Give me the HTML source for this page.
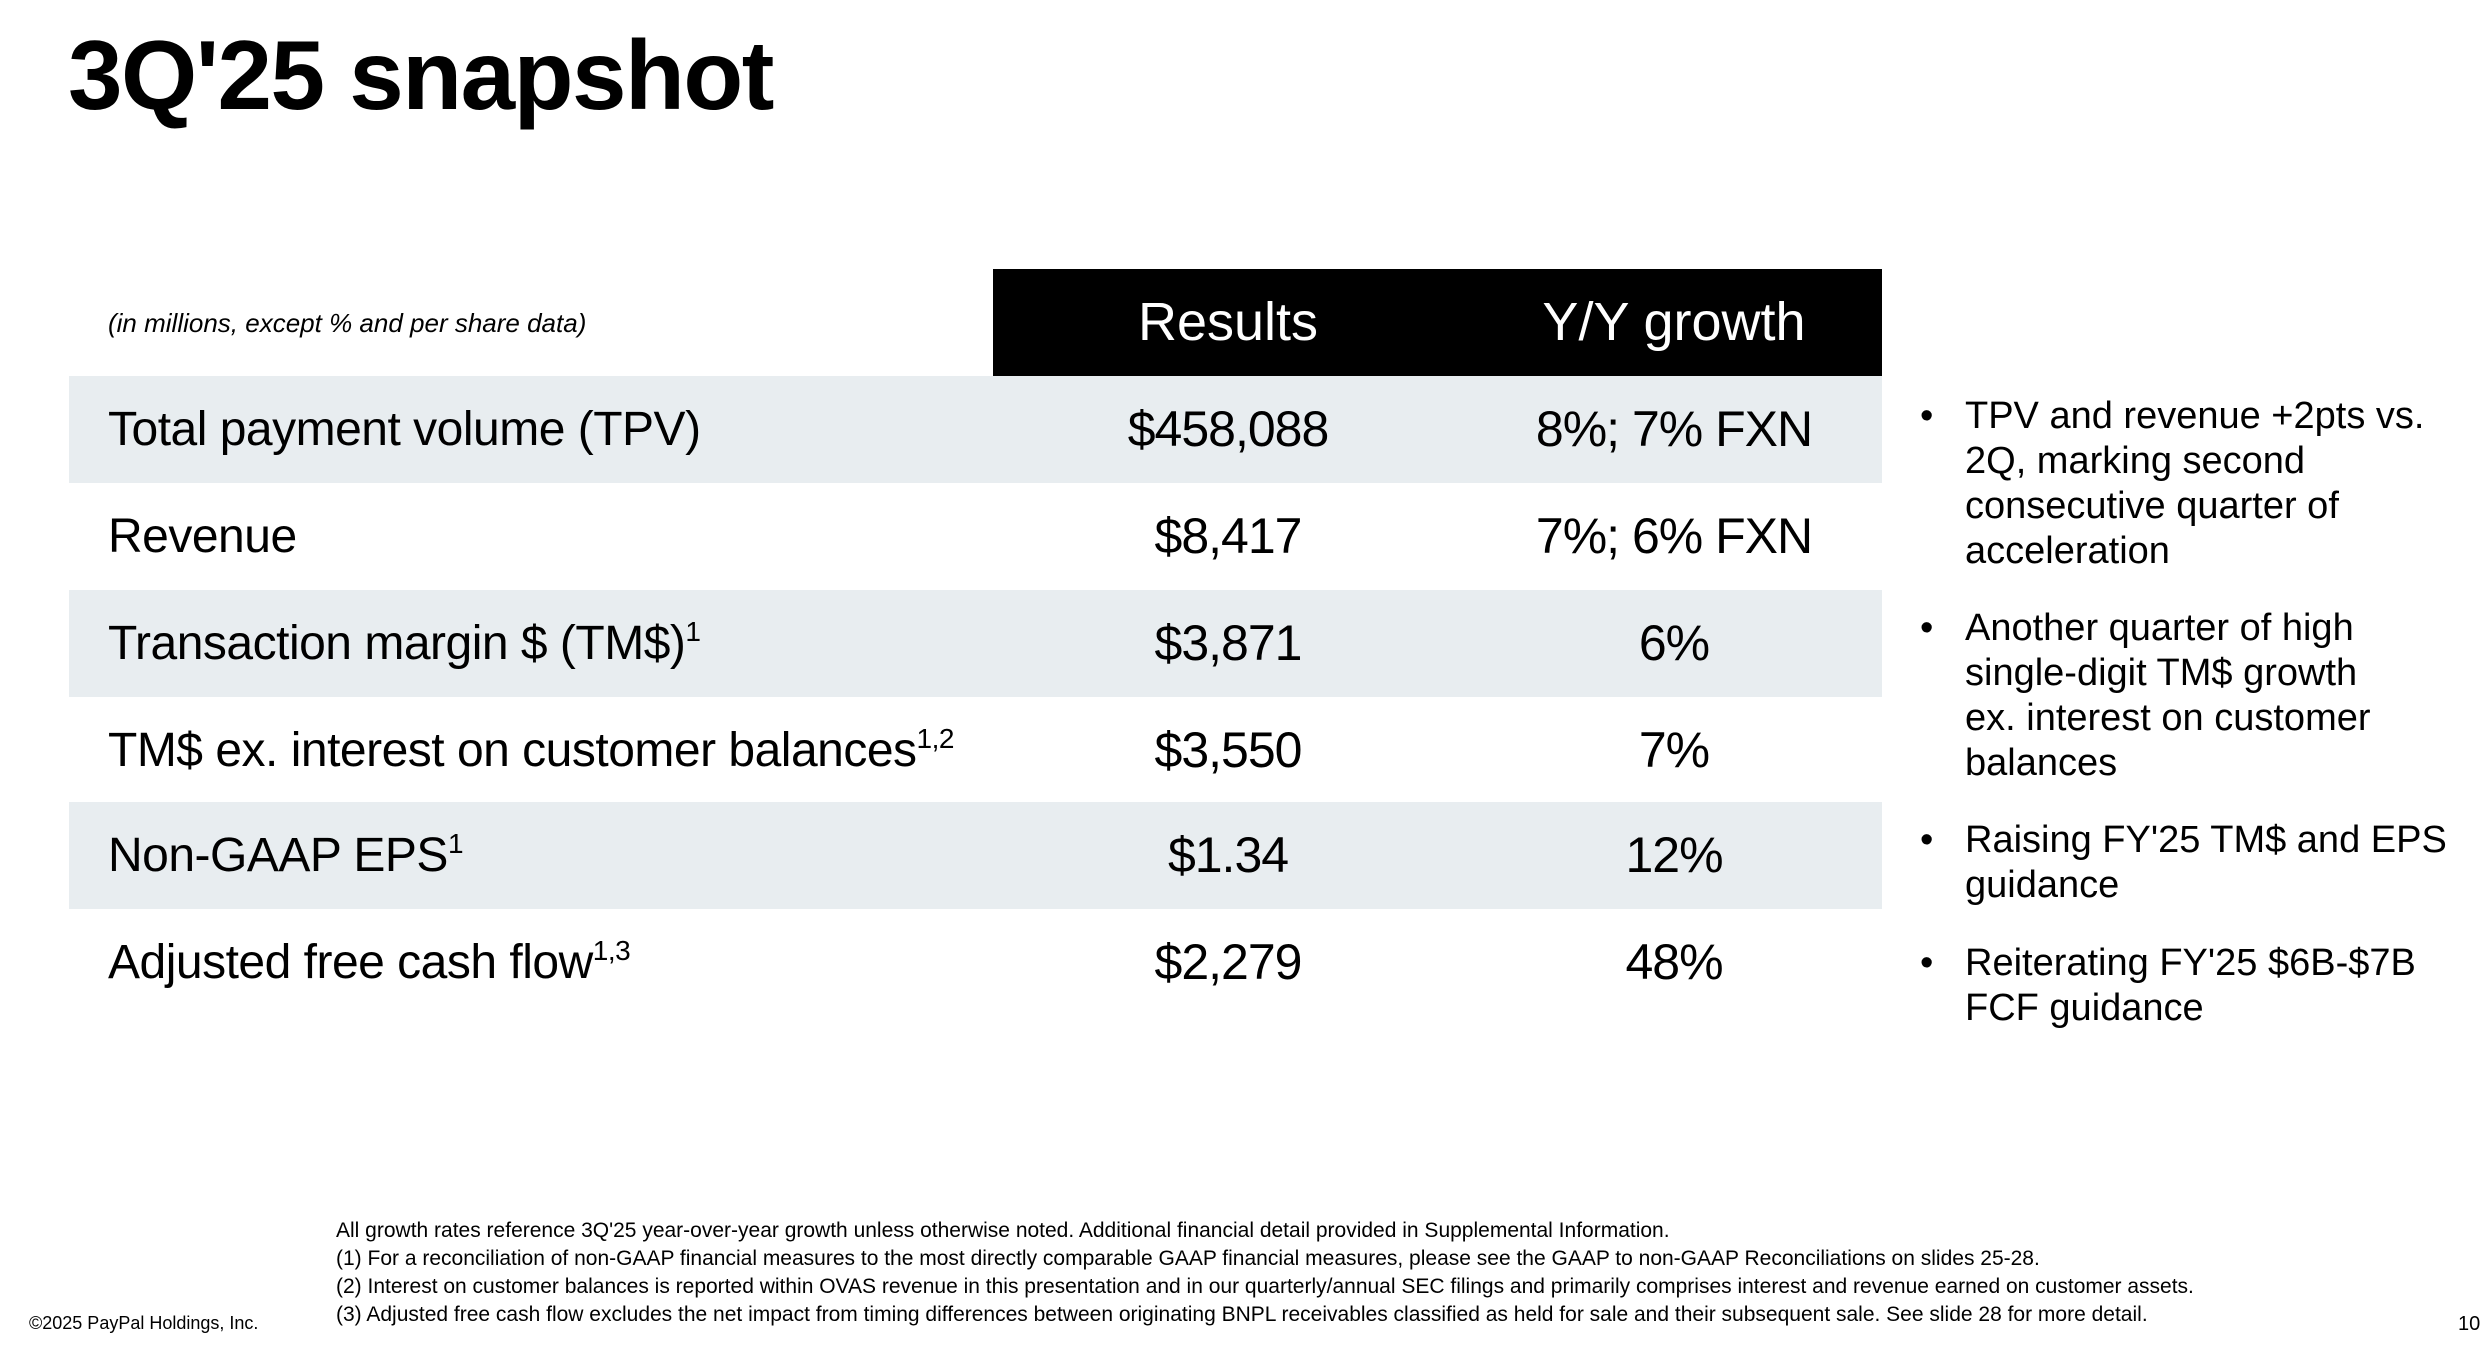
<!DOCTYPE html>
<html><head><meta charset="utf-8"><style>
*{margin:0;padding:0;box-sizing:border-box}
body{width:2486px;height:1352px;background:#fff;position:relative;overflow:hidden;font-family:"Liberation Sans",sans-serif;color:#000}
.a{position:absolute;white-space:nowrap}
.row{position:absolute;left:69px;width:1813px;height:107px}
.g{background:#e8edf0}
.lab{position:absolute;left:39px;top:0;line-height:107px;font-size:48px;letter-spacing:-0.5px}
.res{position:absolute;width:400px;text-align:center;line-height:107px;font-size:50px;letter-spacing:-1px;top:0}
.yy{position:absolute;width:400px;text-align:center;line-height:107px;font-size:50px;letter-spacing:-1px;top:0}
sup{font-size:28px;vertical-align:baseline;position:relative;top:-18px;line-height:0}
.bl{font-size:38px;line-height:45px}
.fn{font-size:21px;line-height:28px}
</style></head><body>
<div class="a" style="left:68px;top:20px;font-size:98px;font-weight:bold;letter-spacing:-1.5px;line-height:110px">3Q'25 snapshot</div>

<div class="a" style="left:108px;top:308px;font-size:26px;font-style:italic">(in millions, except % and per share data)</div>
<div class="a" style="left:993px;top:269px;width:889px;height:107px;background:#000"></div>
<div class="a" style="left:1028px;top:269px;width:400px;text-align:center;line-height:107px;color:#fff;font-size:54px">Results</div>
<div class="a" style="left:1474px;top:269px;width:400px;text-align:center;line-height:107px;color:#fff;font-size:54px">Y/Y growth</div>

<div class="row g" style="top:376px"><div class="lab">Total payment volume (TPV)</div><div class="res" style="left:959px">$458,088</div><div class="yy" style="left:1405px">8%; 7% FXN</div></div>
<div class="row" style="top:483px"><div class="lab">Revenue</div><div class="res" style="left:959px">$8,417</div><div class="yy" style="left:1405px">7%; 6% FXN</div></div>
<div class="row g" style="top:590px"><div class="lab">Transaction margin $ (TM$)<sup>1</sup></div><div class="res" style="left:959px">$3,871</div><div class="yy" style="left:1405px">6%</div></div>
<div class="row" style="top:697px"><div class="lab">TM$ ex. interest on customer balances<sup>1,2</sup></div><div class="res" style="left:959px">$3,550</div><div class="yy" style="left:1405px">7%</div></div>
<div class="row g" style="top:802px"><div class="lab">Non-GAAP EPS<sup>1</sup></div><div class="res" style="left:959px">$1.34</div><div class="yy" style="left:1405px">12%</div></div>
<div class="row" style="top:909px"><div class="lab">Adjusted free cash flow<sup>1,3</sup></div><div class="res" style="left:959px">$2,279</div><div class="yy" style="left:1405px">48%</div></div>

<div class="a bl" style="left:1920px;top:394px">•</div>
<div class="a bl" style="left:1965px;top:394px">TPV and revenue +2pts vs.<br>2Q, marking second<br>consecutive quarter of<br>acceleration</div>
<div class="a bl" style="left:1920px;top:606px">•</div>
<div class="a bl" style="left:1965px;top:606px">Another quarter of high<br>single-digit TM$ growth<br>ex. interest on customer<br>balances</div>
<div class="a bl" style="left:1920px;top:818px">•</div>
<div class="a bl" style="left:1965px;top:818px">Raising FY'25 TM$ and EPS<br>guidance</div>
<div class="a bl" style="left:1920px;top:941px">•</div>
<div class="a bl" style="left:1965px;top:941px">Reiterating FY'25 $6B-$7B<br>FCF guidance</div>

<div class="a fn" style="left:336px;top:1217px">All growth rates reference 3Q'25 year-over-year growth unless otherwise noted. Additional financial detail provided in Supplemental Information.<br>(1) For a reconciliation of non-GAAP financial measures to the most directly comparable GAAP financial measures, please see the GAAP to non-GAAP Reconciliations on slides 25-28.<br>(2) Interest on customer balances is reported within OVAS revenue in this presentation and in our quarterly/annual SEC filings and primarily comprises interest and revenue earned on customer assets.<br>(3) Adjusted free cash flow excludes the net impact from timing differences between originating BNPL receivables classified as held for sale and their subsequent sale. See slide 28 for more detail.</div>
<div class="a" style="left:29px;top:1313px;font-size:18px">©2025 PayPal Holdings, Inc.</div>
<div class="a" style="left:2458px;top:1313px;font-size:20px">10</div>
</body></html>
